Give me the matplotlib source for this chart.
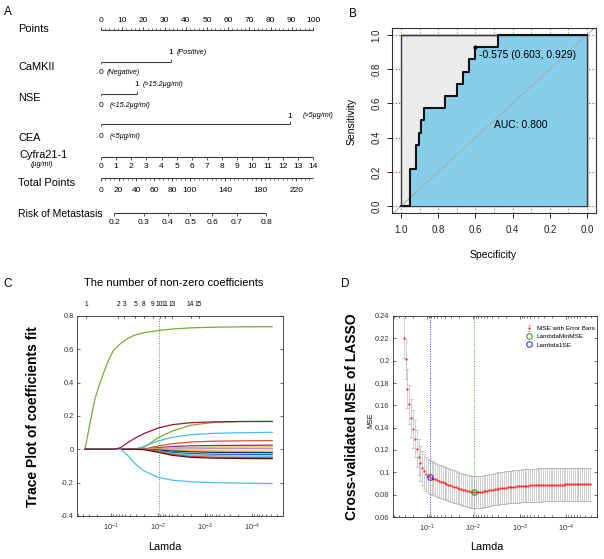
import numpy as np
import matplotlib
matplotlib.use("Agg")
import matplotlib.pyplot as plt
import matplotlib.transforms as mtrans
from matplotlib.ticker import FixedLocator, FixedFormatter, NullFormatter, LogLocator

plt.rcParams['font.family'] = ['Liberation Sans', 'DejaVu Sans']
plt.rcParams['mathtext.fontset'] = 'custom'
plt.rcParams['mathtext.rm'] = 'Liberation Sans'
plt.rcParams['mathtext.it'] = 'Liberation Sans:italic'

# ------------------------------------------------------------------ data
# A: nomogram
POINTS_TICKS = [0, 10, 20, 30, 40, 50, 60, 70, 80, 90, 100]
CAMKII_POINTS = [0, 33]
CAMKII_LEVELS = ['0', '1']
CAMKII_NOTES = ['(Negative)', '(Positive)']
NSE_POINTS = [0, 17]
NSE_LEVELS = ['0', '1']
NSE_NOTES = ['(<15.2µg/ml)', '(>15.2µg/ml)']
CEA_POINTS = [0, 89]
CEA_LEVELS = ['0', '1']
CEA_NOTES = ['(<5µg/ml)', '(>5µg/ml)']
CYFRA_VALUES = [0, 1, 2, 3, 4, 5, 6, 7, 8, 9, 10, 11, 12, 13, 14]
CYFRA_MAX_POINTS = 100
TOTAL_TICKS = [0, 20, 40, 60, 80, 100, 140, 180, 220]
RISK_TICKS = [0.2, 0.3, 0.4, 0.5, 0.6, 0.7, 0.8]
RISK_INTERCEPT = -1.624
RISK_SLOPE = 0.01616

# B: ROC curve (specificity, sensitivity)
ROC_SPEC = [1.0, 0.952, 0.952, 0.92, 0.92, 0.903, 0.903, 0.89, 0.89, 0.876, 0.876,
            0.763, 0.763, 0.70, 0.70, 0.667, 0.667, 0.634, 0.634, 0.603, 0.603,
            0.478, 0.478, 0.0]
ROC_SENS = [0.0, 0.0, 0.214, 0.214, 0.357, 0.357, 0.429, 0.429, 0.5, 0.5, 0.571,
            0.571, 0.643, 0.643, 0.714, 0.714, 0.786, 0.786, 0.857, 0.857, 0.929,
            0.929, 1.0, 1.0]
BEST_THRESHOLD = -0.575
BEST_SPEC = 0.603
BEST_SENS = 0.929
AUC = 0.800

# C: lasso coefficient traces
C_LOGLAM = [-0.44, -0.55, -0.65, -0.75, -0.85, -0.95, -1.05, -1.2, -1.35, -1.5,
            -1.7, -2.0, -2.3, -2.7, -3.2, -3.8, -4.43]
COEF_GREEN_BIG = [0, 0.16, 0.30, 0.39, 0.47, 0.54, 0.595, 0.635, 0.665, 0.685, 0.70, 0.713, 0.722, 0.729, 0.733, 0.735, 0.736]
COEF_GREEN_SMALL = [0, 0, 0, 0, 0, 0, 0, 0, 0, 0, 0.012, 0.07, 0.11, 0.145, 0.162, 0.167, 0.168]
COEF_LBLUE_UP = [0, 0, 0, 0, 0, 0, 0, 0, 0, 0, 0.018, 0.05, 0.072, 0.088, 0.096, 0.100, 0.102]
COEF_RED_UP = [0, 0, 0, 0, 0, 0, 0, 0, 0, 0, 0.002, 0.02, 0.034, 0.044, 0.049, 0.051, 0.052]
COEF_PURPLE = [0, 0, 0, 0, 0, 0, 0, 0, 0, 0, 0, 0.01, 0.017, 0.021, 0.023, 0.024, 0.025]
COEF_YELLOW = [0, 0, 0, 0, 0, 0, 0, 0, 0, 0, 0, 0.005, 0.009, 0.012, 0.013, 0.014, 0.014]
COEF_LILAC = [0, 0, 0, 0, 0, 0, 0, 0, 0, 0, 0, 0.0, 0.002, 0.003, 0.004, 0.004, 0.004]
COEF_ORANGE_NEG = [0, 0, 0, 0, 0, 0, 0, 0, 0, 0, 0, -0.002, -0.006, -0.008, -0.010, -0.011, -0.011]
COEF_NAVY = [0, 0, 0, 0, 0, 0, 0, 0, 0, 0, 0, -0.004, -0.010, -0.015, -0.018, -0.019, -0.020]
COEF_BLUE = [0, 0, 0, 0, 0, 0, 0, 0, 0, 0, 0, -0.008, -0.018, -0.025, -0.029, -0.030, -0.031]
COEF_LBLUE_NEG = [0, 0, 0, 0, 0, 0, 0, 0, 0, 0, 0, -0.010, -0.025, -0.034, -0.038, -0.040, -0.041]
COEF_RED_NEG = [0, 0, 0, 0, 0, 0, 0, 0, 0, 0, 0, -0.012, -0.030, -0.042, -0.047, -0.049, -0.050]
COEF_DARK_NEG = [0, 0, 0, 0, 0, 0, 0, 0, 0, 0, -0.002, -0.018, -0.036, -0.048, -0.053, -0.055, -0.056]
COEF_LBLUE_DOWN = [0, 0, 0, 0, 0, 0, 0, 0, -0.035, -0.085, -0.13, -0.168, -0.185, -0.195, -0.200, -0.203, -0.205]
COEF_MAROON = [0, 0, 0, 0, 0, 0, 0, 0.01, 0.04, 0.066, 0.095, 0.128, 0.148, 0.160, 0.165, 0.167, 0.167]
C_SERIES = [
    (COEF_GREEN_BIG, '#77AC30'), (COEF_GREEN_SMALL, '#77AC30'),
    (COEF_LBLUE_UP, '#4DBEEE'), (COEF_RED_UP, '#D95319'),
    (COEF_PURPLE, '#7E2F8E'), (COEF_YELLOW, '#EDB120'),
    (COEF_LILAC, '#B889C8'), (COEF_ORANGE_NEG, '#EDB120'),
    (COEF_NAVY, '#1C2E66'), (COEF_BLUE, '#0072BD'),
    (COEF_LBLUE_NEG, '#4DBEEE'), (COEF_RED_NEG, '#D95319'),
    (COEF_DARK_NEG, '#5A0F1C'), (COEF_LBLUE_DOWN, '#4DBEEE'),
    (COEF_MAROON, '#A2142F'),
]
DF_COUNTS = [1, 2, 3, 5, 8, 9, 10, 11, 13, 14, 15]
DF_LOGLAM = [-0.46, -1.15, -1.28, -1.51, -1.69, -1.89, -2.03, -2.15, -2.30, -2.69, -2.86]

# D: cross-validated MSE (MATLAB lasso grid: 101 geometric lambdas, ratio 1e-4)
D_LAMBDA_MAX = 10 ** -0.5
D_LAMBDA_RATIO = 1e-4
MSE = [0.220, 0.2015, 0.175, 0.161, 0.149, 0.139, 0.130, 0.121, 0.114, 0.108,
       0.104, 0.101, 0.0985, 0.0968, 0.0958, 0.0950, 0.0943, 0.0936, 0.0929, 0.0922,
       0.0916, 0.0909, 0.0903, 0.0896, 0.0890, 0.0884, 0.0878, 0.0872, 0.0866, 0.0860,
       0.0855, 0.0850, 0.0845, 0.0840, 0.0835, 0.0830, 0.0827, 0.0824, 0.0822, 0.0823,
       0.0824, 0.0826, 0.0828, 0.0831, 0.0834, 0.0837, 0.0840, 0.0843, 0.0846, 0.0849,
       0.0852, 0.0855, 0.0857, 0.0860, 0.0862, 0.0864, 0.0866, 0.0868, 0.0870, 0.0872,
       0.0873, 0.0875, 0.0876, 0.0878, 0.0879, 0.0880, 0.0881, 0.0882, 0.0883, 0.0884,
       0.0885, 0.0885, 0.0886, 0.0887, 0.0887, 0.0888, 0.0888, 0.0889, 0.0889, 0.0889,
       0.0890, 0.0890, 0.0890, 0.0891, 0.0891, 0.0891, 0.0891, 0.0892, 0.0892, 0.0892,
       0.0892, 0.0892, 0.0892, 0.0893, 0.0893, 0.0893, 0.0893, 0.0893, 0.0893, 0.0893,
       0.0893]
SE = [0.018, 0.018, 0.0175, 0.0175, 0.017, 0.017, 0.0165, 0.0165, 0.016, 0.016,
      0.0155, 0.0155, 0.015, 0.015, 0.015, 0.0148, 0.0148, 0.0148, 0.0148, 0.0148,
      0.0148, 0.0146, 0.0146, 0.0146, 0.0146, 0.0146, 0.0146, 0.0146, 0.0143, 0.0143,
      0.0143, 0.0143, 0.0143, 0.0143, 0.0143, 0.0143, 0.0143, 0.0143, 0.0143, 0.0143,
      0.0143, 0.0143, 0.0143, 0.0143, 0.0143, 0.0143, 0.0143, 0.0143, 0.0143, 0.0143,
      0.0143, 0.0145, 0.0145, 0.0145, 0.0145, 0.0145, 0.0145, 0.0145, 0.0145, 0.0145,
      0.0145, 0.0147, 0.0147, 0.0147, 0.0147, 0.0147, 0.0147, 0.0147, 0.0147, 0.0147,
      0.0147, 0.0149, 0.0149, 0.0149, 0.0149, 0.0149, 0.0149, 0.0149, 0.0149, 0.0149,
      0.0149, 0.0150, 0.0150, 0.0150, 0.0150, 0.0150, 0.0150, 0.0150, 0.0150, 0.0150,
      0.0150, 0.0150, 0.0150, 0.0150, 0.0150, 0.0150, 0.0150, 0.0150, 0.0150, 0.0150,
      0.0150]

C_YTICKS = [-0.4, -0.2, 0, 0.2, 0.4, 0.6, 0.8]
C_YTICKLABELS = ['-0.4', '-0.2', '0', '0.2', '0.4', '0.6', '0.8']
D_YTICKS = [0.06, 0.08, 0.10, 0.12, 0.14, 0.16, 0.18, 0.20, 0.22, 0.24]
D_YTICKLABELS = ['0.06', '0.08', '0.1', '0.12', '0.14', '0.16', '0.18', '0.2', '0.22', '0.24']

# ------------------------------------------------------------------ figure
W, H = 604, 559
fig = plt.figure(figsize=(W / 100, H / 100), dpi=100)


def add_px(l, t, r, b):
    return fig.add_axes([l / W, 1 - b / H, (r - l) / W, (b - t) / H])


def ftext(x, y, s, **kw):
    fig.text(x / W, 1 - y / H, s, **kw)


# ------------------------------------------------------------------ A
LINE_C = '#3c3c3c'
axA = add_px(0, 0, 340, 240)
PXPP = 2.12   # pixels per point
P0 = 101      # pixel of point 0
axA.set_xlim(-P0 / PXPP, (340 - P0) / PXPP)
axA.set_ylim(240, 0)
axA.axis('off')
LABEL_X = (18 - P0) / PXPP
TICK_FS = 6.0
NOTE_FS = 5.2
NAME_FS = 7.9


def hline(y, x0, x1):
    axA.plot([x0, x1], [y, y], color=LINE_C, lw=0.8, solid_capstyle='butt')


def ticks(xs, y, length, lw=0.6):
    axA.vlines(xs, y, y + length, color=LINE_C, lw=lw)


# Points
hline(30, 0, 100)
ticks(np.arange(0, 101, 2), 30, -2.0, lw=0.5)
ticks(POINTS_TICKS, 30, -3.0)
for v in POINTS_TICKS:
    axA.text(v, 20, str(v), ha='center', va='center', fontsize=TICK_FS)
axA.text(LABEL_X, 29, 'Points', ha='left', va='center', fontsize=NAME_FS)


def binary_row(y, name, name_y, pts, levels, notes, off0, off1, y0, y1):
    hline(y, pts[0], pts[1])
    ticks([pts[0]], y, 2.5)
    ticks([pts[1]], y, -2.5)
    axA.text(pts[0], y0, levels[0], ha='center', va='center', fontsize=TICK_FS)
    axA.text(pts[1], y1, levels[1], ha='center', va='center', fontsize=TICK_FS)
    axA.annotate(notes[0], (pts[0], y0), xytext=(off0, 0.3), textcoords='offset points',
                 ha='left', va='center', fontsize=NOTE_FS, style='italic')
    axA.annotate(notes[1], (pts[1], y1), xytext=(off1, 0.3), textcoords='offset points',
                 ha='left', va='center', fontsize=NOTE_FS, style='italic')
    axA.text(LABEL_X, name_y, name, ha='left', va='center', fontsize=NAME_FS)


binary_row(62, 'CaMKII', 67, CAMKII_POINTS, CAMKII_LEVELS, CAMKII_NOTES, 4.0, 4.0, 72.5, 52.5)
binary_row(94, 'NSE', 98, NSE_POINTS, NSE_LEVELS, NSE_NOTES, 6.0, 4.0, 105.5, 85)
binary_row(124, 'CEA', 138, CEA_POINTS, CEA_LEVELS, CEA_NOTES, 6.0, 9.5, 137, 116)

# Cyfra21-1
cyfra_pts = np.array(CYFRA_VALUES) * CYFRA_MAX_POINTS / max(CYFRA_VALUES)
hline(157, cyfra_pts[0], cyfra_pts[-1])
ticks(cyfra_pts, 157, 3.0)
for v, p in zip(CYFRA_VALUES, cyfra_pts):
    axA.text(p, 166, str(v), ha='center', va='center', fontsize=TICK_FS)
axA.text(LABEL_X + 0.5, 155, 'Cyfra21-1', ha='left', va='center', fontsize=NAME_FS)
axA.text((42 - P0) / PXPP, 164.5, '(µg/ml)', ha='center', va='center', fontsize=NOTE_FS, style='italic')

# Total points
TOTAL_MAX = CAMKII_POINTS[1] + NSE_POINTS[1] + CEA_POINTS[1] + CYFRA_MAX_POINTS


def total_to_pts(tp):
    return np.asarray(tp, dtype=float) * 100.0 / TOTAL_MAX


hline(178, 0, total_to_pts(TOTAL_MAX))
ticks(total_to_pts(np.arange(0, TOTAL_MAX + 1, 5)), 178, 2.0, lw=0.5)
ticks(total_to_pts(TOTAL_TICKS), 178, 2.6)
for v in TOTAL_TICKS:
    axA.text(total_to_pts(v), 190, str(v), ha='center', va='center', fontsize=TICK_FS)
axA.text(LABEL_X, 183, 'Total Points', ha='left', va='center', fontsize=NAME_FS)

# Risk
risk = np.array(RISK_TICKS)
risk_tp = (np.log(risk / (1 - risk)) - RISK_INTERCEPT) / RISK_SLOPE
risk_pts = total_to_pts(risk_tp)
hline(213, risk_pts[0], risk_pts[-1])
ticks(risk_pts, 213, 3.0)
for v, p in zip(RISK_TICKS, risk_pts):
    axA.text(p, 222.5, f'{v:.1f}', ha='center', va='center', fontsize=TICK_FS)
axA.text(LABEL_X, 214.5, 'Risk of Metastasis', ha='left', va='center', fontsize=7.5)

# ------------------------------------------------------------------ B
axB = add_px(392, 28, 596, 213)
axB.set_xlim(1.048, -0.048)
axB.set_ylim(-0.04, 1.04)
for v in np.arange(0, 1.01, 0.1):
    axB.axvline(v, color='#22cc22', ls=(0, (1, 2)), lw=0.8, zorder=0)
for v in np.arange(0, 1.01, 0.2):
    axB.axhline(v, color='#dd2222', ls=(0, (1, 2)), lw=0.8, zorder=0)
axB.fill([1, 0, 0, 1], [0, 0, 1, 1], facecolor='#EBEBEB', edgecolor='#3a3a3a', lw=1.0, zorder=1)
axB.fill(ROC_SPEC + [0.0], ROC_SENS + [0.0], facecolor='#87CEEB', edgecolor='none', zorder=2)
axB.plot([1, 0, 0], [1, 1, 0], color='#3a3a3a', lw=1.0, zorder=2.2)
axB.axline((1, 0), (0, 1), color='#AAAAAA', lw=0.7, zorder=2.5)
axB.plot(ROC_SPEC, ROC_SENS, color='#111111', lw=1.5, zorder=3)
axB.plot([BEST_SPEC], [BEST_SENS], 'o', color='black', ms=2, zorder=4)
axB.annotate(f'{BEST_THRESHOLD:.3f} ({BEST_SPEC:.3f}, {BEST_SENS:.3f})', (BEST_SPEC, BEST_SENS),
             xytext=(3.2, -5.5), textcoords='offset points', ha='left', va='center', fontsize=7.5)
axB.text(0.5, 0.5, f'AUC: {AUC:.3f}', ha='left', va='top', fontsize=7.5, zorder=4)
xt = [1.0, 0.8, 0.6, 0.4, 0.2, 0.0]
axB.set_xticks(xt)
axB.set_xticklabels([f'{v:.1f}' for v in xt])
yt = [0.0, 0.2, 0.4, 0.6, 0.8, 1.0]
axB.set_yticks(yt)
axB.set_yticklabels([f'{v:.1f}' for v in yt], rotation=90, va='center')
axB.tick_params(direction='out', length=3.5, width=0.7, labelsize=7, colors='#222222')
axB.tick_params(axis='x', pad=5)
axB.tick_params(axis='y', pad=4)
for s in axB.spines.values():
    s.set_color('#333333')
    s.set_linewidth(0.8)
ftext(493, 255, 'Specificity', ha='center', va='center', fontsize=7.5)
ftext(352, 121, 'Sensitivity', ha='center', va='center', fontsize=7.5, rotation=90)
ftext(353, 14, 'B', ha='center', va='center', fontsize=8.5)
ftext(8, 12, 'A', ha='center', va='center', fontsize=8.5)

# ------------------------------------------------------------------ C & D common
XLIM = (10 ** -0.27, 10 ** -4.66)
lam_d = D_LAMBDA_MAX * D_LAMBDA_RATIO ** (np.arange(len(MSE)) / (len(MSE) - 1))
mse = np.array(MSE)
se = np.array(SE)
i_min = int(np.argmin(mse))
i_1se = int(np.where(mse <= mse[i_min] + se[i_min])[0][0])
lam_min = lam_d[i_min]
lam_1se = lam_d[i_1se]


def matlab_axes(ax, yticks, ylabels, top=True):
    ax.set_xscale('log')
    ax.set_xlim(*XLIM)
    ax.xaxis.set_major_locator(LogLocator(base=10))
    ax.xaxis.set_minor_locator(LogLocator(base=10, subs=np.arange(2, 10)))
    ax.xaxis.set_minor_formatter(NullFormatter())
    ax.yaxis.set_major_locator(FixedLocator(yticks))
    ax.yaxis.set_major_formatter(FixedFormatter(ylabels))
    ax.tick_params(which='both', direction='in', right=True, top=top, colors='#333333',
                   width=0.5, labelsize=5.3)
    ax.tick_params(which='major', length=2.5)
    ax.tick_params(which='minor', length=1.5)
    ax.tick_params(axis='x', pad=4)
    ax.tick_params(axis='y', pad=2.5)
    for s in ax.spines.values():
        s.set_color('#333333')
        s.set_linewidth(0.6)


# ------------------------------------------------------------------ C
axC = add_px(77, 316, 283, 516)
matlab_axes(axC, C_YTICKS, C_YTICKLABELS, top=False)
axC.set_ylim(-0.4, 0.8)
lam_c = 10 ** np.array(C_LOGLAM)
for coefs, col in C_SERIES:
    axC.plot(lam_c, coefs, color=col, lw=0.9)
axC.axvline(lam_min, color='#33bb33', ls=(0, (1, 1.5)), lw=0.7)
trC = mtrans.blended_transform_factory(axC.transData, axC.transAxes)
for lg, d in zip(DF_LOGLAM, DF_COUNTS):
    axC.text(10 ** lg, 1.056, str(d), transform=trC, ha='center', va='center', fontsize=4.8)
    axC.plot([10 ** lg] * 2, [1.0, 0.988], transform=trC, color='#333333', lw=0.5, clip_on=False)
axC.text(0.47, 1.165, 'The number of non-zero coefficients', transform=axC.transAxes,
         ha='center', va='center', fontsize=8)
ftext(33, 417, 'Trace Plot of coefficients fit', ha='center', va='center', fontsize=10,
      fontweight='bold', rotation=90)
ftext(165, 547, 'Lamda', ha='center', va='center', fontsize=7.8)
ftext(8, 284, 'C', ha='center', va='center', fontsize=8.5)

# ------------------------------------------------------------------ D
axD = add_px(393, 316, 597, 517)
matlab_axes(axD, D_YTICKS, D_YTICKLABELS, top=True)
axD.set_ylim(0.06, 0.24)
axD.axvline(lam_min, color='#33bb33', ls=(0, (1, 1.5)), lw=0.7, zorder=1)
axD.axvline(lam_1se, color='#3333ff', ls=(0, (1, 1.5)), lw=0.7, zorder=1)
eb = axD.errorbar(lam_d, mse, yerr=se, fmt='.', color='#ff2020', ms=1.2, ecolor='#aaaaaa',
                  elinewidth=0.4, capsize=1.2, capthick=0.4, label='MSE with Error Bars', zorder=2)
h_min, = axD.plot([lam_min], [mse[i_min]], 'o', mfc='none', mec='#109010', ms=4, mew=0.7,
                  label='LambdaMinMSE', zorder=3)
h_1se, = axD.plot([lam_1se], [mse[i_1se]], 'o', mfc='none', mec='#2020ee', ms=4, mew=0.7,
                  label='Lambda1SE', zorder=3)
axD.legend([eb, h_min, h_1se], ['MSE with Error Bars', 'LambdaMinMSE', 'Lambda1SE'],
           loc='upper left', bbox_to_anchor=(0.63, 0.975), frameon=False, fontsize=4.6,
           handlelength=1.0, handletextpad=0.7, labelspacing=0.45, borderpad=0.2)
ftext(352, 417, 'Cross-validated MSE of LASSO', ha='center', va='center', fontsize=10,
      fontweight='bold', rotation=90)
ftext(371, 420, 'MSE', ha='center', va='center', fontsize=5, rotation=90)
ftext(487, 547, 'Lamda', ha='center', va='center', fontsize=7.8)
ftext(345, 284, 'D', ha='center', va='center', fontsize=8.5)

fig.savefig('out.png', dpi=100)
